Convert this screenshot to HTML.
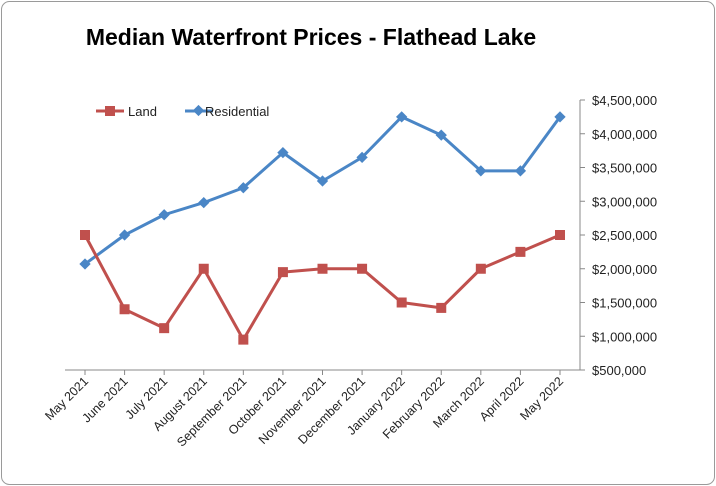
<!DOCTYPE html>
<html><head><meta charset="utf-8"><style>
html,body{margin:0;padding:0;background:#fff;}
svg{display:block;font-family:"Liberation Sans",sans-serif;}
</style></head><body>
<svg id="chart" width="716" height="486" viewBox="0 0 716 486">
<rect x="1.5" y="1.5" width="713" height="483" rx="8" fill="#fff" stroke="#9a9a9a"/>
<text x="311" y="45" text-anchor="middle" font-size="23" font-weight="bold" fill="#000">Median Waterfront Prices - Flathead Lake</text>
<g>
<g>
<line x1="96" y1="111" x2="124" y2="111" stroke="#c0504d" stroke-width="3"/>
<rect x="105" y="106" width="10" height="10" fill="#c0504d"/>
<text x="128" y="116" font-size="13" fill="#222">Land</text></g>
<g>
<line x1="185" y1="111" x2="213" y2="111" stroke="#4a86c6" stroke-width="3"/>
<rect x="194.5" y="106.5" width="8" height="8" fill="#4a86c6" transform="rotate(45 198.5 110.5)"/>
<text x="205" y="116" font-size="13" fill="#222">Residential</text></g>
</g>
<g id="axes"></g>
<g id="series"></g>
</svg>
<script>
const categories=["May 2021","June 2021","July 2021","August 2021","September 2021","October 2021","November 2021","December 2021","January 2022","February 2022","March 2022","April 2022","May 2022"];
const residential=[2070000,2500000,2800000,2980000,3200000,3720000,3300000,3650000,4250000,3980000,3450000,3450000,4250000];
const land=[2500000,1400000,1120000,2000000,950000,1950000,2000000,2000000,1500000,1420000,2000000,2250000,2500000];
const yTicks=[500000,1000000,1500000,2000000,2500000,3000000,3500000,4000000,4500000];
const yTickLabels=["$500,000","$1,000,000","$1,500,000","$2,000,000","$2,500,000","$3,000,000","$3,500,000","$4,000,000","$4,500,000"];
const NS="http://www.w3.org/2000/svg";
const x0=85,x1=560,yMin=500000,yMax=4500000,yb=370,yt=100,axisX=580;
const xs=i=>x0+(x1-x0)*i/(categories.length-1);
const ys=v=>yb-(v-yMin)/(yMax-yMin)*(yb-yt);
const axes=document.getElementById('axes'),series=document.getElementById('series');
function mk(t,a,p){const e=document.createElementNS(NS,t);for(const k in a)e.setAttribute(k,a[k]);p.appendChild(e);return e;}
const xl=mk('line',{x1:65,y1:yb,x2:axisX,y2:yb,stroke:'#888','stroke-width':1},axes);


const yl=mk('line',{x1:axisX,y1:yt,x2:axisX,y2:yb,stroke:'#888','stroke-width':1},axes);


yTicks.forEach((v,i)=>{
 const tk=mk('line',{x1:axisX,y1:ys(v),x2:axisX+5,y2:ys(v),stroke:'#888'},axes);
 
 
 const t=mk('text',{x:axisX+12,y:ys(v)+5,'font-size':13,fill:'#222'},axes);
 t.textContent=yTickLabels[i];
 
 
});
categories.forEach((c,i)=>{
 const x=xs(i);
 const tk=mk('line',{x1:x,y1:yb,x2:x,y2:yb+5,stroke:'#888'},axes);
 
 
 const t=mk('text',{x:x+4,y:yb+12,'font-size':12.5,fill:'#222','text-anchor':'end',transform:`rotate(-45 ${x+4} ${yb+12})`},axes);
 t.textContent=c;
 
 
});
function drawSeries(vals,color,name,marker){
 const pl=mk('polyline',{points:vals.map((v,i)=>xs(i)+','+ys(v)).join(' '),fill:'none',stroke:color,'stroke-width':3,'stroke-linejoin':'round'},series);
 
 
 vals.forEach((v,i)=>{
  const x=xs(i),y=ys(v);let m;
  if(marker==='square')m=mk('rect',{x:x-5,y:y-5,width:10,height:10,fill:color},series);
  else m=mk('rect',{x:x-4,y:y-4,width:8,height:8,fill:color,transform:`rotate(45 ${x} ${y})`},series);
  
  
 });
}
drawSeries(residential,'#4a86c6','residential','diamond');
drawSeries(land,'#c0504d','land','square');
</script>
</body></html>
